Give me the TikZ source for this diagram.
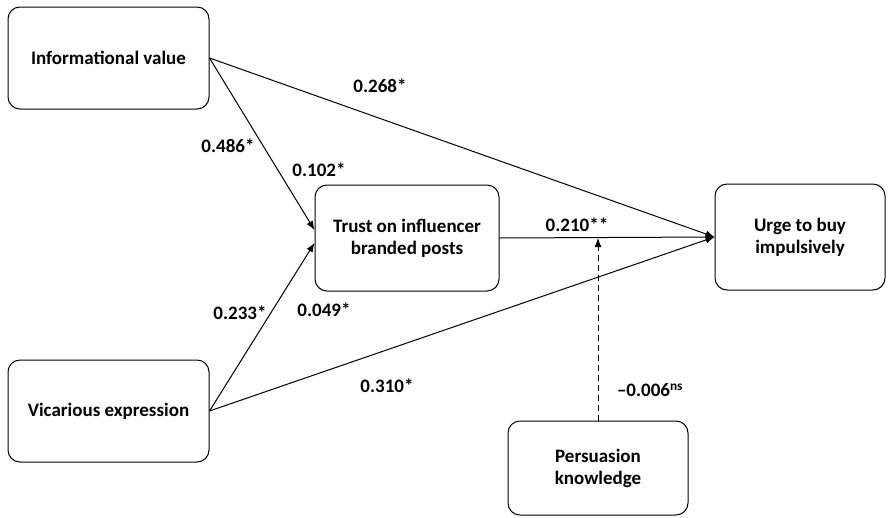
\documentclass[tikz,border=0pt]{standalone}
\usepackage{fontspec}
\setmainfont{Carlito}
\usetikzlibrary{arrows.meta}

\tikzset{
  var/.style={draw, line width=1pt, rounded corners=12pt, align=center, font=\fontsize{19}{22}\selectfont\bfseries},
  coef/.style={font=\fontsize{19}{22}\selectfont\bfseries},
  path/.style={line width=1pt, -{Latex[length=9pt,width=7pt]}}
}

\begin{document}
\begin{tikzpicture}[x=1pt,y=-1pt]
   \useasboundingbox (0,0) rectangle (891,517);

   % constructs
   \node[var, minimum width=201pt, minimum height=102pt] (info) at (108.5,58) {Informational value};
   \node[var, minimum width=201pt, minimum height=102pt] (vic) at (108.5,411) {Vicarious expression};
   \node[var, minimum width=184pt, minimum height=106pt] (trust) at (407,238) {Trust on influencer\\branded posts};
   \node[var, minimum width=170pt, minimum height=106pt] (urge) at (800,237) {Urge to buy\\impulsively};
   \node[var, minimum width=180pt, minimum height=94pt] (pk) at (598,468) {Persuasion\\knowledge};
   \coordinate (mod) at (pk.north |- trust.east);

   % paths
   \draw[path] (info.east) -- ([yshift=8pt]trust.west);
   \draw[path] (vic.east) -- ([yshift=-5pt]trust.west);
   \draw[path] (info.east) -- (urge.west);
   \draw[path] (vic.east) -- (urge.west);
   \draw[path] (trust.east) -- (urge.west);
   \draw[path, dash pattern=on 6pt off 4pt] (pk.north) -- (mod);

   % coefficients
   \node[coef] (c1) at (380,86) {0.268*};
   \node[coef] (c2) at (228,146) {0.486*};
   \node[coef] (c3) at (319,170) {0.102*};
   \node[coef] (c4) at (240,313) {0.233*};
   \node[coef] (c5) at (324,310) {0.049*};
   \node[coef] (c6) at (387,386) {0.310*};
   \node[coef] (c7) at (577,225) {0.210**};
   \node[coef] (c8) at (650,390) {--0.006\textsuperscript{ns}};
\end{tikzpicture}
\end{document}
